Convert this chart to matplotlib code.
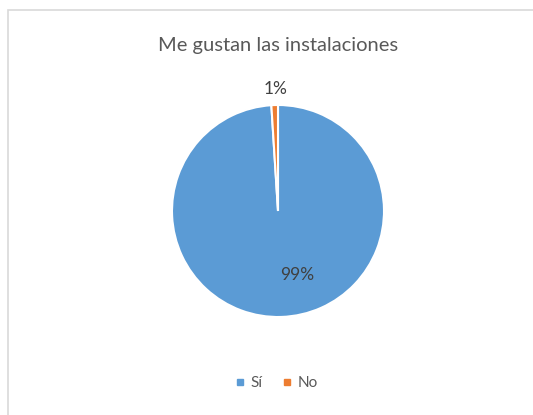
import numpy as np
import matplotlib.pyplot as plt
from matplotlib.patches import Rectangle
from matplotlib.lines import Line2D

plt.rcParams['font.family'] = ['Lato', 'DejaVu Sans']

title = "Me gustan las instalaciones"
categories = ["Sí", "No"]
values = [99, 1]
colors = ['#5B9BD5', '#ED7D31']

W, H = 533, 415
fig = plt.figure(figsize=(W / 100, H / 100), dpi=100)
fig.patch.set_facecolor('white')

# chart area border
fig.patches.append(Rectangle((8 / W, -0.05), 1.1, 1 - 10 / H + 0.05, transform=fig.transFigure,
                             fill=False, edgecolor='#d9d9d9', linewidth=1.2))

cx, cy, r = 278, 211, 106
ax = fig.add_axes([(cx - r) / W, 1 - (cy + r) / H, 2 * r / W, 2 * r / H])
wedges, _ = ax.pie(values, colors=colors, startangle=90, counterclock=False,
                   wedgeprops=dict(edgecolor='white', linewidth=1.5))
ax.set_xlim(-1, 1)
ax.set_ylim(-1, 1)
ax.axis('off')

total = sum(values)
pcts = [f"{round(v / total * 100)}%" for v in values]
ax.text(0.18, -0.60, pcts[0], ha='center', va='center', fontsize=12.5, color='#404040')
ax.text(-0.02, 1.15, pcts[1], ha='center', va='center', fontsize=12.5, color='#404040')

fig.text(cx / W, 1 - 45 / H, title, ha='center', va='center', fontsize=14.5, color='#595959')

handles = [Line2D([], [], marker='s', linestyle='none', markersize=4.5, color=c) for c in colors]
fig.legend(handles, categories, loc='center', bbox_to_anchor=(276 / W, 1 - 383 / H), ncol=2,
           frameon=False, fontsize=11, handlelength=0.8, handletextpad=0.3, columnspacing=1.2,
           labelcolor='#595959')

fig.savefig('out.png', dpi=100)
